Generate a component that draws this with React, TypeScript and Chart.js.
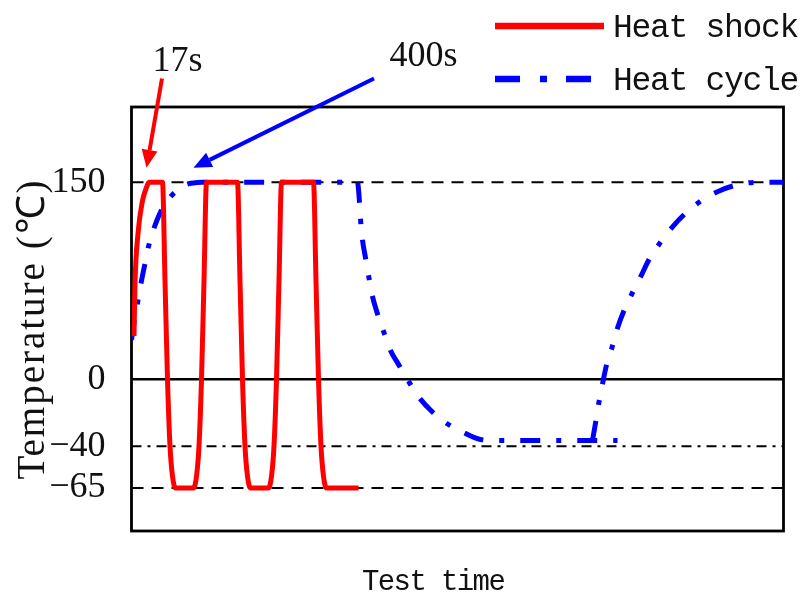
import React, { useEffect, useRef } from 'react';
import { Chart, registerables, LinearScale } from 'chart.js';

Chart.register(...registerables);

// ---------------- data ----------------
const TIME_MIN = 0;
const TIME_MAX = 652;
const TEMP_MIN = -90.8;
const TEMP_MAX = 207.3;
const Y_TICKS = [150, 0, -40, -65];
const REF_LEVELS = [150, 0, -40, -65];

const SERIES_NAMES = ['Heat shock', 'Heat cycle'];

const HEAT_SHOCK_TIME = [2.5, 3.5, 6.5, 11, 14.5, 17.5, 31, 33.5, 36, 38.5, 41, 44, 62, 65, 67.5, 70, 72.5, 75, 106, 108.5, 111, 113.5, 116, 119, 137, 140, 142.5, 145, 147.5, 150, 182, 184.5, 187, 189.5, 192, 195, 227];
const HEAT_SHOCK_TEMP = [33, 73, 111, 136, 145, 150, 150, 75, 0, -40, -58, -65, -65, -58, -40, 0, 75, 150, 150, 75, 0, -40, -58, -65, -65, -58, -40, 0, 75, 150, 150, 75, 0, -40, -58, -65, -65];

const HEAT_CYCLE_TIME = [0, 3, 6, 10, 14, 17, 22, 27, 33, 39, 46, 54, 62, 70, 226, 227.5, 229, 231, 234, 237.3, 240.7, 245.7, 252.3, 259, 267.3, 277.3, 287, 300.7, 315, 330.7, 349, 365, 486];
const HEAT_CYCLE_TEMP = [30, 45, 58, 75, 90, 101, 114, 124, 133, 139, 144, 148, 149.5, 150, 150, 140, 122, 106, 92.5, 78, 64, 50.5, 36, 22, 11, -1.4, -10.4, -19.4, -26.3, -31.4, -36, -36.6, -36.6];

const HEAT_CYCLE_RISE_TIME = [461, 464, 467.5, 471, 475, 480.7, 485.7, 492.3, 502.3, 509, 517.3, 530.7, 541.7, 554, 570.7, 588.3, 605.7, 625.7, 652];
const HEAT_CYCLE_RISE_TEMP = [-36.6, -26.2, -13.6, -2.8, 10.9, 24.8, 38.3, 52, 68, 77.9, 90.9, 106.1, 116.7, 126.4, 136.5, 143.6, 148, 150, 150];

const CALLOUT_LABELS = ['17s', '400s'];
const CALLOUT_TIP_TIME = [15, 62];
const CALLOUT_TIP_TEMP = [161, 161];
const CALLOUT_TAIL_TIME = [30.5, 242.5];
const CALLOUT_TAIL_TEMP = [229, 229];
const CALLOUT_TEXT_TIME = [21, 258];
const CALLOUT_TEXT_TEMP = [234.7, 238.6];

const X_TITLE = 'Test time';
const Y_TITLE = 'Temperature (℃)';

// ---------------- styles ----------------
const RED = '#ff0000';
const BLUE = '#0000ff';
const SERIF = '"Liberation Serif", "Times New Roman", serif';
const MONO = '"Liberation Mono", "DejaVu Sans Mono", monospace';
const CYCLE_DASH = [20, 16, 5, 16];
const REF_DASH: number[][] = [[12, 8], [], [10, 6, 3, 6], [12, 8]];
const REF_WIDTH = [2, 2.5, 2, 2];

// piecewise scale: the negative range is stretched (schematic axis)
const NEG_STRETCH = 1.2716;
const warp = (v: number) => (v < 0 ? v * NEG_STRETCH : v);
const unwarp = (u: number) => (u < 0 ? u / NEG_STRETCH : u);

class PiecewiseScale extends LinearScale {
  static id = 'piecewise';
  static defaults = LinearScale.defaults;
  getPixelForValue(value: number) {
    if (value === null || value === undefined || isNaN(value)) return NaN;
    const a = warp(this.min);
    const b = warp(this.max);
    return this.getPixelForDecimal((warp(value) - a) / (b - a));
  }
  getValueForPixel(pixel: number) {
    const a = warp(this.min);
    const b = warp(this.max);
    return unwarp(a + this.getDecimalForPixel(pixel) * (b - a));
  }
}
Chart.register(PiecewiseScale as any);

const pts = (xs: number[], ys: number[]) => xs.map((x, i) => ({ x, y: ys[i] }));

function drawArrow(ctx: CanvasRenderingContext2D, x0: number, y0: number, x1: number, y1: number, color: string) {
  const ang = Math.atan2(y1 - y0, x1 - x0);
  const headLen = 18;
  const headHalf = 8;
  const bx = x1 - headLen * Math.cos(ang);
  const by = y1 - headLen * Math.sin(ang);
  ctx.save();
  ctx.strokeStyle = color;
  ctx.fillStyle = color;
  ctx.lineWidth = 4;
  ctx.setLineDash([]);
  ctx.beginPath();
  ctx.moveTo(x0, y0);
  ctx.lineTo(bx, by);
  ctx.stroke();
  ctx.beginPath();
  ctx.moveTo(x1, y1);
  ctx.lineTo(bx + headHalf * Math.sin(ang), by - headHalf * Math.cos(ang));
  ctx.lineTo(bx - headHalf * Math.sin(ang), by + headHalf * Math.cos(ang));
  ctx.closePath();
  ctx.fill();
  ctx.restore();
}

const setSpacing = (ctx: any, v: string) => {
  if ('letterSpacing' in ctx) ctx.letterSpacing = v;
};

const overlayPlugin = {
  id: 'overlay',
  beforeDatasetsDraw(chart: any) {
    const { ctx, chartArea } = chart;
    const { left, top, right, bottom } = chartArea;
    ctx.save();
    ctx.strokeStyle = '#000';
    ctx.lineWidth = 2.8;
    ctx.strokeRect(left, top, right - left, bottom - top);
    ctx.restore();
  },
  afterDraw(chart: any) {
    const { ctx, scales } = chart;
    const xs = scales.x;
    const ys = scales.y;
    ctx.save();
    // axis titles
    ctx.fillStyle = '#111';
    ctx.textBaseline = 'alphabetic';
    ctx.textAlign = 'left';
    ctx.save();
    ctx.font = `29px ${MONO}`;
    setSpacing(ctx, '-1.6px');
    ctx.fillText(X_TITLE, 362, 590);
    ctx.restore();

    ctx.save();
    ctx.translate(44, 329);
    ctx.rotate(-Math.PI / 2);
    ctx.font = `39px ${SERIF}`;
    setSpacing(ctx, '2px');
    ctx.textAlign = 'center';
    ctx.fillText(Y_TITLE, 0, 0);
    ctx.restore();

    // legend
    const colors = [RED, BLUE];
    const dashes = [[], [25, 20, 7, 19]];
    const lineEnds = [604, 592];
    const rowY = [26, 79];
    const textBase = [37, 90];
    for (let i = 0; i < SERIES_NAMES.length; i++) {
      ctx.save();
      ctx.strokeStyle = colors[i];
      ctx.lineWidth = 6.5;
      ctx.lineCap = 'butt';
      ctx.setLineDash(dashes[i]);
      ctx.beginPath();
      ctx.moveTo(495, rowY[i]);
      ctx.lineTo(lineEnds[i], rowY[i]);
      ctx.stroke();
      ctx.restore();
      ctx.save();
      ctx.fillStyle = '#111';
      ctx.font = `33px ${MONO}`;
      setSpacing(ctx, '-1.3px');
      ctx.textAlign = 'left';
      ctx.fillText(SERIES_NAMES[i], 613, textBase[i]);
      ctx.restore();
    }

    // callouts
    for (let i = 0; i < CALLOUT_LABELS.length; i++) {
      const tx = xs.getPixelForValue(CALLOUT_TEXT_TIME[i]);
      const ty = ys.getPixelForValue(CALLOUT_TEXT_TEMP[i]);
      ctx.fillStyle = '#111';
      ctx.font = `36px ${SERIF}`;
      ctx.textAlign = 'left';
      ctx.fillText(CALLOUT_LABELS[i], tx, ty);
      drawArrow(
        ctx,
        xs.getPixelForValue(CALLOUT_TAIL_TIME[i]),
        ys.getPixelForValue(CALLOUT_TAIL_TEMP[i]),
        xs.getPixelForValue(CALLOUT_TIP_TIME[i]),
        ys.getPixelForValue(CALLOUT_TIP_TEMP[i]),
        colors[i]
      );
    }
    ctx.restore();
  },
};

export default function App() {
  const canvasRef = useRef<HTMLCanvasElement | null>(null);

  useEffect(() => {
    if (!canvasRef.current) return;
    const refSets = REF_LEVELS.map((lvl, i) => ({
      label: 'ref' + i,
      data: [
        { x: TIME_MIN, y: lvl },
        { x: TIME_MAX, y: lvl },
      ],
      borderColor: '#000',
      borderWidth: REF_WIDTH[i],
      borderDash: REF_DASH[i],
      borderCapStyle: 'butt',
      pointRadius: 0,
      order: 5,
    }));
    const chart = new Chart(canvasRef.current, {
      type: 'line',
      data: {
        datasets: [
          {
            label: SERIES_NAMES[0],
            data: pts(HEAT_SHOCK_TIME, HEAT_SHOCK_TEMP),
            borderColor: RED,
            borderWidth: 5,
            pointRadius: 0,
            cubicInterpolationMode: 'monotone',
            borderJoinStyle: 'round',
            order: 1,
          },
          {
            label: SERIES_NAMES[1],
            data: pts(HEAT_CYCLE_TIME, HEAT_CYCLE_TEMP),
            borderColor: BLUE,
            borderWidth: 5,
            borderDash: CYCLE_DASH,
            borderCapStyle: 'butt',
            pointRadius: 0,
            cubicInterpolationMode: 'monotone',
            order: 2,
          },
          {
            label: SERIES_NAMES[1] + ' (rise)',
            data: pts(HEAT_CYCLE_RISE_TIME, HEAT_CYCLE_RISE_TEMP),
            borderColor: BLUE,
            borderWidth: 5,
            borderDash: CYCLE_DASH,
            borderCapStyle: 'butt',
            pointRadius: 0,
            cubicInterpolationMode: 'monotone',
            order: 2,
          },
          ...refSets,
        ] as any,
      },
      options: {
        animation: false,
        responsive: true,
        maintainAspectRatio: false,
        layout: { padding: { top: 107, right: 21.5, left: 0, bottom: 0 } },
        plugins: {
          legend: { display: false },
          tooltip: { enabled: false },
        },
        scales: {
          x: {
            type: 'linear',
            min: TIME_MIN,
            max: TIME_MAX,
            grid: { display: false, drawTicks: false },
            border: { display: false },
            ticks: { display: false },
            afterFit: (s: any) => {
              s.height = 68;
            },
          },
          y: {
            type: 'piecewise' as any,
            min: TEMP_MIN,
            max: TEMP_MAX,
            grid: { display: false, drawTicks: false },
            border: { display: false },
            afterBuildTicks: (s: any) => {
              s.ticks = Y_TICKS.map((v) => ({ value: v }));
            },
            ticks: {
              autoSkip: false,
              padding: 26,
              color: '#111',
              font: { family: SERIF, size: 36 },
              callback: (v: any) => (v < 0 ? '\u2212' + Math.abs(v) : String(v)),
            },
            afterFit: (s: any) => {
              s.width = 131.5;
            },
          },
        },
      } as any,
      plugins: [overlayPlugin],
    });
    return () => chart.destroy();
  }, []);

  return (
    <div style={{ position: 'fixed', left: 0, top: 0, width: 805, height: 599, background: '#fff' }}>
      <canvas ref={canvasRef} />
    </div>
  );
}
